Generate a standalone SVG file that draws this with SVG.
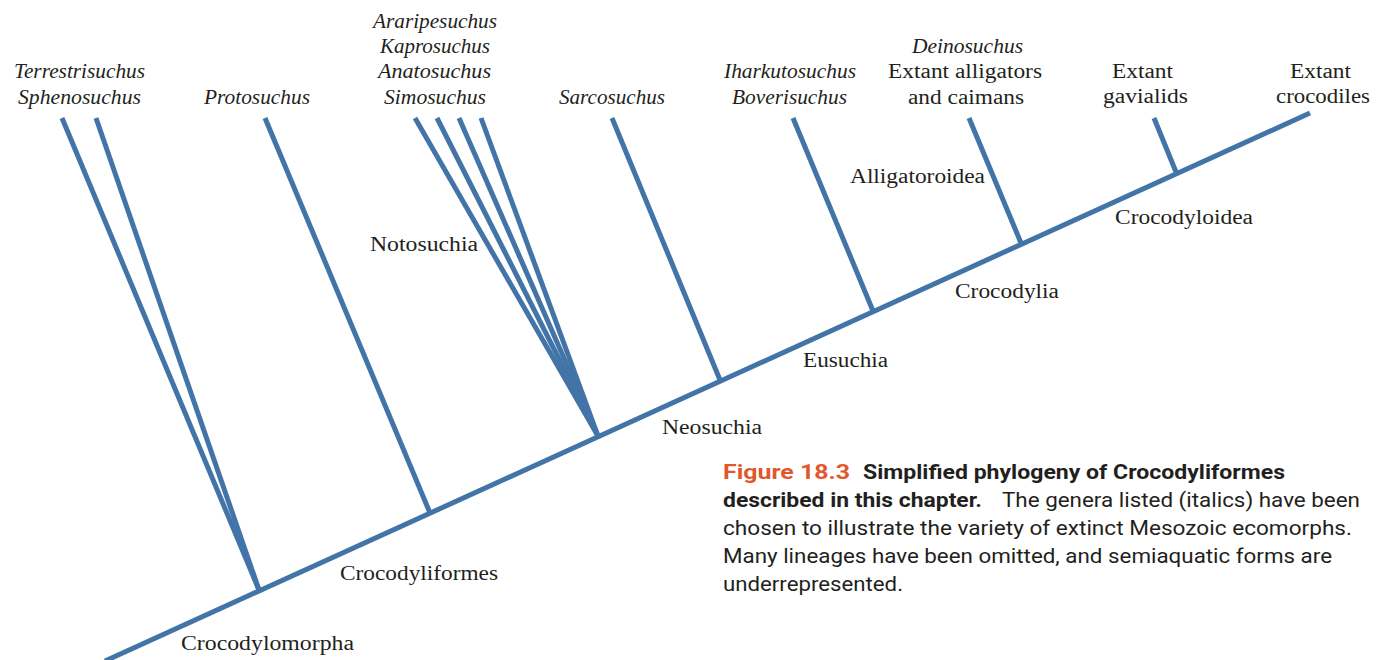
<svg xmlns="http://www.w3.org/2000/svg" width="1385" height="660" viewBox="0 0 1385 660">
  <style>
    .br { stroke: #4274a8; stroke-width: 5; fill: none; stroke-linecap: butt; stroke-linejoin: miter; }
    .taxon { font-family: "Liberation Serif", "Times New Roman", serif; font-size: 20px; fill: #231f20; }
    .it { font-style: italic; }
    .cap { font-family: "Roboto", "Liberation Sans", Arial, sans-serif; font-size: 20.5px; fill: #231f20; }
    .capb { font-weight: bold; }
    .fig { font-weight: bold; fill: #e0582c; }
  </style>
  <rect width="1385" height="660" fill="#ffffff"/>

  <!-- tree branches -->
  <g id="connectors">
    <line class="br" x1="105" y1="661" x2="1310" y2="113"/>
    <line class="br" x1="62" y1="118" x2="259" y2="590"/>
    <line class="br" x1="96" y1="118" x2="259" y2="590"/>
    <line class="br" x1="265" y1="118" x2="430" y2="513"/>
    <line class="br" x1="415" y1="118" x2="598" y2="436"/>
    <line class="br" x1="437" y1="118" x2="598" y2="436"/>
    <line class="br" x1="459" y1="118" x2="598" y2="436"/>
    <line class="br" x1="481" y1="118" x2="598" y2="436"/>
    <line class="br" x1="612" y1="118" x2="720" y2="380"/>
    <line class="br" x1="793" y1="118" x2="873" y2="311"/>
    <line class="br" x1="969" y1="118" x2="1021" y2="243"/>
    <line class="br" x1="1154" y1="118" x2="1176" y2="172"/>
  </g>

  <!-- terminal taxa -->
  <g id="sphenosuchians" class="taxon it">
    <text x="14" y="78" textLength="131" lengthAdjust="spacingAndGlyphs">Terrestrisuchus</text>
    <text x="18" y="104" textLength="123" lengthAdjust="spacingAndGlyphs">Sphenosuchus</text>
  </g>
  <g id="protosuchus" class="taxon it">
    <text x="204" y="104" textLength="106" lengthAdjust="spacingAndGlyphs">Protosuchus</text>
  </g>
  <g id="notosuchians" class="taxon it">
    <text x="373" y="28" textLength="124" lengthAdjust="spacingAndGlyphs">Araripesuchus</text>
    <text x="380" y="53" textLength="110" lengthAdjust="spacingAndGlyphs">Kaprosuchus</text>
    <text x="378" y="78" textLength="113" lengthAdjust="spacingAndGlyphs">Anatosuchus</text>
    <text x="384" y="104" textLength="102" lengthAdjust="spacingAndGlyphs">Simosuchus</text>
  </g>
  <g id="sarcosuchus" class="taxon it">
    <text x="559" y="104" textLength="106" lengthAdjust="spacingAndGlyphs">Sarcosuchus</text>
  </g>
  <g id="basal-eusuchians" class="taxon it">
    <text x="724" y="78" textLength="132" lengthAdjust="spacingAndGlyphs">Iharkutosuchus</text>
    <text x="732" y="104" textLength="115" lengthAdjust="spacingAndGlyphs">Boverisuchus</text>
  </g>
  <g id="alligators" class="taxon">
    <text class="it" x="912" y="53" textLength="111" lengthAdjust="spacingAndGlyphs">Deinosuchus</text>
    <text x="888" y="78" textLength="154" lengthAdjust="spacingAndGlyphs">Extant alligators</text>
    <text x="908" y="104" textLength="116" lengthAdjust="spacingAndGlyphs">and caimans</text>
  </g>
  <g id="gavialids" class="taxon">
    <text x="1112" y="78" textLength="61" lengthAdjust="spacingAndGlyphs">Extant</text>
    <text x="1103" y="103" textLength="85" lengthAdjust="spacingAndGlyphs">gavialids</text>
  </g>
  <g id="crocodiles" class="taxon">
    <text x="1290" y="78" textLength="61" lengthAdjust="spacingAndGlyphs">Extant</text>
    <text x="1276" y="103" textLength="94" lengthAdjust="spacingAndGlyphs">crocodiles</text>
  </g>

  <!-- clade names -->
  <g id="clades" class="taxon">
    <text x="370" y="251" textLength="108" lengthAdjust="spacingAndGlyphs">Notosuchia</text>
    <text x="850" y="183" textLength="135" lengthAdjust="spacingAndGlyphs">Alligatoroidea</text>
    <text x="1115" y="224" textLength="138" lengthAdjust="spacingAndGlyphs">Crocodyloidea</text>
    <text x="955" y="298" textLength="104" lengthAdjust="spacingAndGlyphs">Crocodylia</text>
    <text x="803" y="367" textLength="85" lengthAdjust="spacingAndGlyphs">Eusuchia</text>
    <text x="662" y="434" textLength="100" lengthAdjust="spacingAndGlyphs">Neosuchia</text>
    <text x="340" y="580" textLength="158" lengthAdjust="spacingAndGlyphs">Crocodyliformes</text>
    <text x="181" y="650" textLength="173" lengthAdjust="spacingAndGlyphs">Crocodylomorpha</text>
  </g>

  <!-- figure legend -->
  <g id="caption" class="cap">
    <text class="fig" x="723" y="479" textLength="127" lengthAdjust="spacingAndGlyphs">Figure 18.3</text>
    <text class="capb" x="863" y="479" textLength="422" lengthAdjust="spacingAndGlyphs">Simplified phylogeny of Crocodyliformes</text>
    <text class="capb" x="723" y="507" textLength="259" lengthAdjust="spacingAndGlyphs">described in this chapter.</text>
    <text x="1002" y="507" textLength="358" lengthAdjust="spacingAndGlyphs">The genera listed (italics) have been</text>
    <text x="723" y="535" textLength="629" lengthAdjust="spacingAndGlyphs">chosen to illustrate the variety of extinct Mesozoic ecomorphs.</text>
    <text x="723" y="563" textLength="609" lengthAdjust="spacingAndGlyphs">Many lineages have been omitted, and semiaquatic forms are</text>
    <text x="723" y="591" textLength="180" lengthAdjust="spacingAndGlyphs">underrepresented.</text>
  </g>
</svg>
